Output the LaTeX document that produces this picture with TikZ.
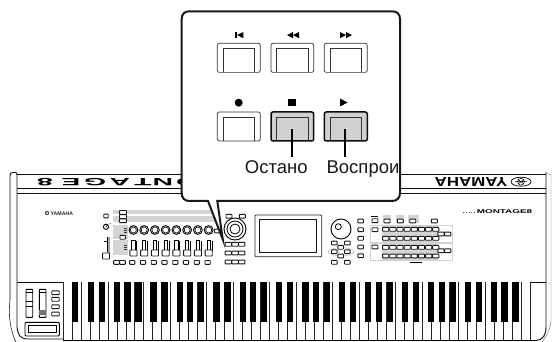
\documentclass[tikz,border=0pt]{standalone}
\usepackage{fontspec}
\setmainfont{Liberation Sans}
\newcommand{\pb}[4][]{\draw[pbtn,#1] ({#2-#3/2},{#4-1.9}) rectangle ({#2+#3/2},{#4+1.9});}
\tikzset{
  body/.style={line width=0.9pt,draw=black!95},
  pbtn/.style={line width=0.9pt,draw=black!90,fill=white,rounded corners=0.6pt},
  keybtn/.style={line width=0.7pt,draw=black!80,fill=white,rounded corners=2pt},
  keybtnon/.style={line width=1.5pt,draw=black!95,fill=black!18,rounded corners=2pt},
  inner/.style={line width=0.7pt,draw=black!80},
  lead/.style={line width=1.7pt,draw=black},
  calloutlab/.style={font=\fontsize{18.5}{20}\selectfont,inner sep=0pt,text=black!90},
  paneltint/.style={fill=black!17,draw=none},
  faint/.style={line width=0.3pt,draw=black!18}
}
\begin{document}
\begin{tikzpicture}[x=1pt,y=-1pt]
\useasboundingbox (0,0) rectangle (552,342);
\fill[white] (0,0) rectangle (552,342);
% ---- instrument body
\draw[body] (17,193.3) -- (546,193.3);
\draw[body] (17,188.3) -- (546,188.3);
\draw[body] (17,282) -- (546,282);
\draw[body] (10,300) -- (10,176) .. controls (10,173) and (11,172.5) .. (13,172.5) -- (15,172.5) .. controls (16.5,172.5) and (17,173) .. (17,175) -- (17,327) .. controls (18,335) and (20,338.5) .. (27,339) -- (63,339);
\draw[body] (17,174) -- (546,174);
\draw[line width=0.6pt,draw=black!85] (10,300) .. controls (8,318) and (11,332) .. (16,342);
\draw[body] (546,172.5) -- (546,327) .. controls (546,335) and (543,340) .. (536,340.5) -- (530,340.5);
\draw[line width=0.4pt,draw=black!60] (546,172.5) -- (551,175) -- (551,321) .. controls (550,330) and (546,337) .. (542,342);
% ---- front name plates, turned over
\foreach \ch/\px in {8/45,E/71,G/95,A/120,T/143,N/163,O/187}{
  \node[rotate=180,xscale=2.7,inner sep=0pt,font=\bfseries\fontsize{10.5}{11}\selectfont] (plate\ch) at (\px,181.7) {\ch};
}
\node[rotate=180,xscale=1.3,inner sep=0pt,font=\bfseries\fontsize{13}{14}\selectfont] (plateyamaha) at (471,181.8) {YAMAHA};
\draw[line width=0.7pt] (521,181.7) ellipse (10 and 4.5);
\draw[line width=0.5pt] (521,181.7) circle (3.4);
\draw[line width=0.5pt] (518,179.5) -- (524,184) (524,179.5) -- (518,184) (515,181.7) -- (527,181.7);
% ---- logos on the panel
\fill[black!70] (47,213) circle (2.2);
\fill[white] (47,213) circle (1);
\node[inner sep=0pt,font=\bfseries\fontsize{5.2}{6}\selectfont,text=black!85,anchor=west] (yamahalogo) at (50.5,213.3) {YAMAHA};
\node[inner sep=0pt,xscale=1.8,font=\bfseries\fontsize{5.5}{6}\selectfont,text=black,anchor=center] (montagelogo) at (504.5,211.8) {MONTAGE8};
\draw[line width=0.8pt,dotted,draw=black!70] (463,212.8) -- (476,212.8);
% ---- left control block
\fill[paneltint] (113,210) rectangle (217,214.5);
\fill[paneltint] (113,216) rectangle (217,222.5);
\fill[paneltint] (113,225) rectangle (128,238.5);
\fill[paneltint] (113,240) rectangle (128,255);
\pb{106}{4.5}{216}
\draw[line width=0.9pt] (106,226.8) circle (2.6);
\draw[line width=0.6pt] (106,226.8) -- (108,225);
\fill (110,223.5) circle (0.5);
\fill[black!35] (107,237) rectangle (110,253);
\draw[line width=1pt] (107,237) -- (107,252) (107,241) -- (104,241);
\draw[pbtn] (102.5,253) rectangle (109.5,259);
\foreach \yy in {212.4,216.6,220.8}{\pb{123}{7}{\yy}}
\pb{122.7}{5.5}{237.3}
\foreach \yy in {228,230,232,245,247,249}{\fill[black!80] (124,\yy) rectangle (126.5,\yy+1.1);}
\foreach \i in {0,...,7}{
  \pgfmathsetmacro{\kx}{133.4+10.75*\i}
  \draw[line width=0.9pt,fill=white] (\kx,230) circle (4.4);
  \draw[line width=0.6pt] (\kx,230) circle (3);
  \draw[line width=0.85pt,fill=white] (\kx-1.6,240) rectangle (\kx+1.6,250.5);
  \draw[line width=1pt] (\kx+3.4,241) -- (\kx+3.4,250.5);
  \draw[pbtn] (\kx-3.6,250) rectangle (\kx+3.6,256);
}
\foreach \x in {116.5,122.5}{\pb{\x}{5.8}{262.4}}
\foreach \x in {132.2,143,153.8,164.5,175.3,186,196.8,207.6}{\pb{\x}{5.2}{262.4}}
\pb{217}{5}{231}
% ---- wheel and buttons beside it
\foreach \x in {229,242.3}{\pb{\x}{6}{216.3}}
\draw[line width=0.9pt,fill=white] (235,229) circle (11);
\draw[line width=0.8pt] (235,229) circle (8);
\draw[line width=0.8pt] (235,229) circle (5);
\foreach \yy in {244.3,253,262}{\foreach \x in {228.3,235,241.7}{\pb{\x}{6.4}{\yy}}}
% ---- display
\draw[line width=0.9pt,draw=black!85,rounded corners=1pt] (255,215) rectangle (321.7,256.7);
\draw[line width=0.9pt,draw=black!90] (259.3,219.7) rectangle (316.7,252);
% ---- dial
\draw[line width=0.9pt] (341,229) circle (10);
\draw[line width=0.8pt] (338.3,226.7) circle (3);
\draw[line width=0.35pt,draw=black!40] (341,251.7) ellipse (13 and 4);
\foreach \x/\yy in {334.3/243,347.3/243,340.7/247.3,334.3/251.7,347.3/251.7,340.7/256,334.3/262.3,347.3/262.3}{\pb{\x}{5.6}{\yy}}
% ---- button columns
\foreach \yy in {221,229.7,238.3,247,255.7}{\pb{360.7}{5.6}{\yy}}
\fill (371,215.7) rectangle (378,217.2);
\foreach \yy in {220.7,229.7,247}{\pb{375}{6}{\yy}}
% ---- right matrix
\draw[faint] (370,225) -- (452,225) -- (452,242) -- (370,242);
\draw[faint] (370,243) -- (452,243) -- (452,260) -- (380,260) -- (380,262);
\draw[faint] (370,225) -- (370,260) -- (380,260);
\fill[paneltint] (382,225.7) rectangle (437.7,260);
\fill[paneltint] (382.5,215) rectangle (391,223.5);
\fill[paneltint] (396,215) rectangle (404,223.5);
\fill[paneltint] (408,215) rectangle (419,223.5);
\foreach \x in {387,400.3,412.7,434.3}{\pb{\x}{6}{221}}
\foreach \yy in {229.3,238.3,247.3,256}{\foreach \i in {0,...,7}{\pb{385.7+7.15*\i}{6.2}{\yy}}}
\foreach \yy in {234,250.7}{\foreach \x in {441,447.7}{\pb{\x}{6.2}{\yy}}}
\fill (410,262) rectangle (422,262.9);
% ---- keyboard
\fill[white] (63,282) rectangle (530,340);
\foreach \i in {0,...,52}{
  \pgfmathsetmacro{\wx}{63+8.98*\i}
  \draw[line width=0.7pt,draw=black!85] (\wx,282) -- (\wx,340);
}
\draw[line width=1pt] (63,340.3) -- (530,340.3);
\newcommand{\bk}[1]{\fill[black] ({#1-3.1},282) rectangle ({#1+3.1},321.5);}
\bk{75.2}
\foreach \oct in {0,...,6}{
  \pgfmathsetmacro{\bx}{90+62.86*\oct}
  \foreach \off/\dd in {0.7/0,2.7/8.98,0/26.94,1.5/35.92,3.5/44.9}{
    \pgfmathsetmacro{\cx}{\bx+\off+\dd}
    \bk{\cx}
  }
}
% ---- wheels
\foreach \x in {26,39.3}{
  \draw[line width=0.9pt,rounded corners=0.6pt,fill=white] (\x,289.3) rectangle (\x+6.7,317.3);
  \draw[line width=0.7pt] (\x,292) -- (\x+6.7,292);
}
\draw[line width=0.7pt] (26,301.7) -- (32.7,301.7) (26,306) -- (32.7,306);
\fill[black!55] (39.3,310) rectangle (46,315);
\foreach \yy in {292.7,299.3,306.7,314}{\pb{55.5}{7.5}{\yy}}
\draw[line width=0.9pt,rounded corners=1pt] (25,322.3) rectangle (59.3,336);
\draw[line width=0.9pt] (28.3,325) rectangle (56,332.7);
% ---- call-out
\draw[line width=2pt,draw=black!90,fill=white,rounded corners=0pt]
  (222.8,239.5) -- (217.3,201) -- (392,201) .. controls (397,201) and (400,198) .. (400,193)
  -- (400,19) .. controls (400,14) and (397,11.3) .. (392,11.3)
  -- (189.5,11.3) .. controls (184.5,11.3) and (181.7,14) .. (181.7,19)
  -- (181.7,193) .. controls (181.7,198) and (184.5,201) .. (189.5,201) -- (208,201) -- cycle;
% ---- call-out keys
\foreach \n/\xa/\xb/\xc/\xd in {a/217.3/260.3/223.3/254.7,b/271/313.7/276.7/308.7,c/324.3/367.3/330/361.7}{
  \draw[keybtn] (\xa,43.3) rectangle (\xb,72.4);
  \draw[inner] (\xc,72.4) -- (\xc,48.7) -- (\xd,48.7) -- (\xd,72.4);
}
\draw[keybtn] (217.3,112) rectangle (260.3,141);
\draw[inner] (223.3,141) -- (223.3,117) -- (254.7,117) -- (254.7,141);
\foreach \xa/\xb/\xc/\xd in {271/313.7/276.7/308.7,324.3/367.3/330/361.7}{
  \draw[keybtnon] (\xa,112) rectangle (\xb,141);
  \draw[inner] (\xc,141) -- (\xc,117) -- (\xd,117) -- (\xd,141);
}
% icons
\fill (235.3,32) rectangle (236.9,38.2);
\fill (243.3,32) -- (243.3,38.2) -- (237,35.1) -- cycle;
\fill (293,32) -- (293,38.2) -- (287,35.1) -- cycle;
\fill (299,32) -- (299,38.2) -- (293,35.1) -- cycle;
\fill (340,32) -- (340,38.2) -- (346,35.1) -- cycle;
\fill (346,32) -- (346,38.2) -- (352,35.1) -- cycle;
\fill (238.7,102.7) circle (4);
\fill (288,98.8) rectangle (295.8,106.5);
\fill (340,98.5) -- (340,106.5) -- (347.5,102.5) -- cycle;
% labels and leaders
\node[calloutlab,anchor=base] (stoplabel) at (276.3,173.5) {Остано};
\node[calloutlab,anchor=base] (playlabel) at (363,173.5) {Воспрои};
\coordinate (stopkey) at (292.3,129);
\coordinate (playkey) at (345.3,129);
\coordinate (stopend) at (292.3,157);
\coordinate (playend) at (345.3,157);
\draw[lead] (stopkey) -- (stopend);
\draw[lead] (playkey) -- (playend);
\end{tikzpicture}
\end{document}
